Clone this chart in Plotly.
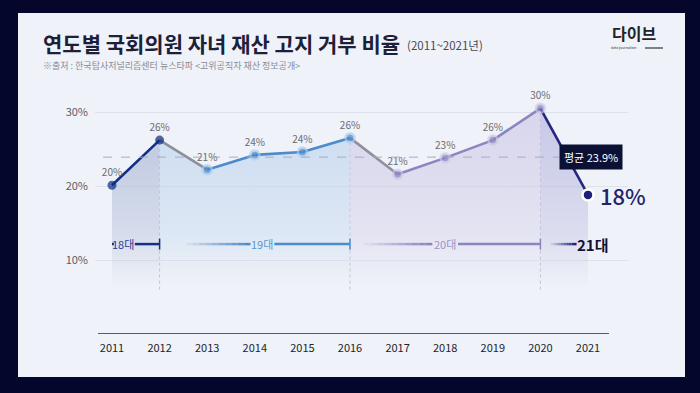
import plotly.graph_objects as go

# ---------------- data ----------------
years = [2011, 2012, 2013, 2014, 2015, 2016, 2017, 2018, 2019, 2020, 2021]
rates = [20.1, 26.2, 22.2, 24.2, 24.6, 26.5, 21.6, 23.8, 26.2, 30.5, 18.8]
rate_labels = ["20%", "26%", "21%", "24%", "24%", "26%", "21%", "23%", "26%", "30%", "18%"]
average = 23.9
avg_label = "평균 23.9%"
periods = ["18대", "19대", "20대", "21대"]
period_start = [2011, 2012, 2016, 2020]
period_end = [2012, 2016, 2020, 2021]
y_ticks = [10, 20, 30]
y_tick_labels = ["10%", "20%", "30%"]
x_tick_labels = [str(y) for y in years]

title = "연도별 국회의원 자녀 재산 고지 거부 비율"
title_sub = "(2011~2021년)"
source = "※출처 : 한국탐사저널리즘센터 뉴스타파 <고위공직자 재산 정보공개>"

# ---------------- style ----------------
FONT = "Noto Sans CJK KR"
W, H = 700, 393
L, R, T, B = 95, 628, 90, 334
BG = "#04072b"
PANEL = "#eff2f8"

def px(x):
    return (x - L) / (R - L)

def py(y):
    return (B - y) / (B - T)

seg_colors = ["#12308a", "#8d9099", "#4b8bcb", "#4b8bcb", "#4b8bcb",
              "#8e909c", "#8c85c1", "#8c85c1", "#8c85c1", "#26267e"]
pt_colors = ["#0c2a80", "#0c2a80", "#4b8bcb", "#4b8bcb", "#4b8bcb", "#4b8bcb",
             "#8c85c1", "#8c85c1", "#8c85c1", "#8c85c1", "#1f1f7a"]
pt_halo = ["rgba(0,0,0,0)", "rgba(0,0,0,0)", "rgba(175,205,238,0.9)", "rgba(175,205,238,0.9)",
           "rgba(175,205,238,0.9)", "rgba(175,205,238,0.9)", "rgba(205,200,232,0.9)",
           "rgba(205,200,232,0.9)", "rgba(205,200,232,0.9)", "rgba(205,200,232,0.9)", "#ffffff"]
pt_size = [9, 9, 9, 9, 9, 9, 9, 9, 9, 9, 11]
pt_halo_w = [0, 0, 2.5, 2.5, 2.5, 2.5, 2.5, 2.5, 2.5, 2.5, 2.5]

region_rgb = ["170,182,214", "190,212,238", "208,204,232", "185,185,224"]
period_line = ["#14308a", "#4d8ccb", "#8a84c0", "#1e2070"]
period_text = ["#2a3a9a", "#5b97d2", "#9a95c8", "#111133"]
period_text_size = [11, 11, 11, 15]
period_text_frac = [0.23, 0.54, 0.5, 1.1]
period_text_half = [0.25, 0.25, 0.27, 0.34]
period_fade_frac = [None, 0.14, 0.075, 0.22]
period_y = 12.15

fig = go.Figure()

# ---------------- area fills ----------------
for k in range(len(periods)):
    i0 = years.index(period_start[k])
    i1 = years.index(period_end[k])
    xs = years[i0:i1 + 1]
    ys = rates[i0:i1 + 1]
    c = region_rgb[k]
    fig.add_trace(go.Scatter(
        x=xs, y=ys, mode="none", fill="tozeroy",
        fillgradient=dict(type="vertical", start=0, stop=31,
                          colorscale=[[0, f"rgba({c},0)"], [0.2, f"rgba({c},0)"],
                                      [0.45, f"rgba({c},0.38)"], [0.75, f"rgba({c},0.6)"],
                                      [1, f"rgba({c},0.75)"]]),
        hoverinfo="skip", showlegend=False))

# ---------------- line segments ----------------
for i in range(len(years) - 1):
    fig.add_trace(go.Scatter(
        x=[years[i], years[i + 1]], y=[rates[i], rates[i + 1]], mode="lines",
        line=dict(color=seg_colors[i], width=2.6), hoverinfo="skip", showlegend=False))

# ---------------- markers + labels ----------------
fig.add_trace(go.Scatter(
    x=years[:-1], y=rates[:-1], mode="markers+text",
    text=rate_labels[:-1], textposition="top center",
    textfont=dict(family=FONT, size=10, color="#6b6b72"),
    marker=dict(color=pt_colors[:-1], size=pt_size[:-1],
                line=dict(color=pt_halo[:-1], width=pt_halo_w[:-1])),
    showlegend=False))
fig.add_trace(go.Scatter(
    x=years[-1:], y=rates[-1:], mode="markers",
    marker=dict(color=pt_colors[-1], size=pt_size[-1],
                line=dict(color=pt_halo[-1], width=pt_halo_w[-1])),
    showlegend=False))

shapes = []
# panel
shapes.append(dict(type="rect", xref="paper", yref="paper", x0=px(18), x1=px(685),
                   y0=py(377), y1=py(13), fillcolor=PANEL, line=dict(width=0), layer="below"))
# x axis baseline
shapes.append(dict(type="line", xref="paper", yref="y", x0=px(98), x1=px(609), y0=0, y1=0,
                   line=dict(color="#2a2a35", width=1.5)))
# average line
shapes.append(dict(type="line", xref="paper", yref="y", x0=px(103), x1=px(592),
                   y0=average, y1=average, line=dict(color="#a9adb8", width=1, dash="dash")))
# vertical dotted lines at period boundaries
for yr in period_end[:-1]:
    v = rates[years.index(yr)]
    shapes.append(dict(type="line", xref="x", yref="y", x0=yr, x1=yr, y0=6, y1=v,
                       line=dict(color="#bfc3d0", width=1, dash="dot"), layer="below"))

# period bars
annotations = []
for k, name in enumerate(periods):
    s, e = period_start[k], period_end[k]
    col = period_line[k]
    tc = s + period_text_frac[k] * (e - s)
    half = period_text_half[k]
    if period_fade_frac[k] is None:
        shapes.append(dict(type="line", xref="x", yref="y", x0=s, x1=s + 0.04,
                           y0=period_y, y1=period_y, line=dict(color=col, width=2.5)))
    else:
        f0 = s + period_fade_frac[k] * (e - s)
        f1 = tc - half
        n = 10
        for j in range(n):
            a = f0 + (f1 - f0) * j / n
            b = f0 + (f1 - f0) * (j + 1) / n
            shapes.append(dict(type="line", xref="x", yref="y", x0=a, x1=b,
                               y0=period_y, y1=period_y, opacity=(j + 1) / n,
                               line=dict(color=col, width=2.5)))
    if k < len(periods) - 1:
        shapes.append(dict(type="line", xref="x", yref="y", x0=tc + half, x1=e,
                           y0=period_y, y1=period_y, line=dict(color=col, width=2.5)))
        shapes.append(dict(type="line", xref="x", yref="y", x0=e, x1=e,
                           y0=period_y - 0.75, y1=period_y + 0.75, line=dict(color=col, width=1.5)))
    annotations.append(dict(x=tc, y=period_y, xref="x", yref="y", text=name, showarrow=False,
                            font=dict(family=FONT, size=period_text_size[k], color=period_text[k],
                                      weight="bold" if k == 3 else "normal")))

# big last value label
annotations.append(dict(x=years[-1], y=rates[-1], xref="x", yref="y", text=rate_labels[-1],
                        showarrow=False, xanchor="left", xshift=10,
                        font=dict(family=FONT, size=22, color="#22236e", weight=500)))
# average label
annotations.append(dict(x=px(623), y=average, xref="paper", yref="y", text=avg_label,
                        showarrow=False, bgcolor="#0b1035", borderpad=4,
                        font=dict(family=FONT, size=11, color="#ffffff")))
# title
annotations.append(dict(x=px(41), y=py(43), xref="paper", yref="paper", text=title,
                        showarrow=False, xanchor="left", yanchor="middle",
                        font=dict(family=FONT, size=21, color="#1c2038", weight="bold")))
annotations.append(dict(x=px(405), y=py(45), xref="paper", yref="paper", text=title_sub,
                        showarrow=False, xanchor="left", yanchor="middle",
                        font=dict(family=FONT, size=11.5, color="#4a4a55")))
annotations.append(dict(x=px(41), y=py(66), xref="paper", yref="paper", text=source,
                        showarrow=False, xanchor="left", yanchor="middle",
                        font=dict(family=FONT, size=9, color="#8a8c96")))
# logo
annotations.append(dict(x=px(634), y=py(33), xref="paper", yref="paper", text="다이브",
                        showarrow=False, xanchor="center", yanchor="middle",
                        font=dict(family=FONT, size=16, color="#222228", weight="bold")))
annotations.append(dict(x=px(624), y=py(48), xref="paper", yref="paper", text="data journalism",
                        showarrow=False, xanchor="center", yanchor="middle",
                        font=dict(family=FONT, size=3.5, color="#333")))
shapes.append(dict(type="line", xref="paper", yref="paper", x0=px(645), x1=px(663),
                   y0=py(48), y1=py(48), line=dict(color="#333", width=1.2)))

fig.update_layout(
    width=W, height=H, autosize=False,
    margin=dict(l=L, r=W - R, t=T, b=H - B, pad=0),
    paper_bgcolor=BG, plot_bgcolor="rgba(0,0,0,0)",
    font=dict(family=FONT),
    shapes=shapes, annotations=annotations,
    xaxis=dict(range=[2011 - 17 / 47.6, 2021 + 40 / 47.6], tickvals=years, ticktext=x_tick_labels,
               showgrid=False, zeroline=False, showline=False, ticks="",
               tickfont=dict(family=FONT, size=11, color="#22242c"), ticklabelstandoff=6),
    yaxis=dict(range=[0, 30 + 22 / 7.4], tickvals=y_ticks, ticktext=y_tick_labels,
               showgrid=True, gridcolor="#dfe2ea", gridwidth=1, zeroline=False, showline=False,
               ticks="", tickfont=dict(family=FONT, size=11, color="#5a5c66"), ticklabelstandoff=6),
    showlegend=False,
)

fig.write_html("out.html", config={"displayModeBar": False},
               post_script="document.body.style.margin='0px';document.body.style.background='#04072b';")
